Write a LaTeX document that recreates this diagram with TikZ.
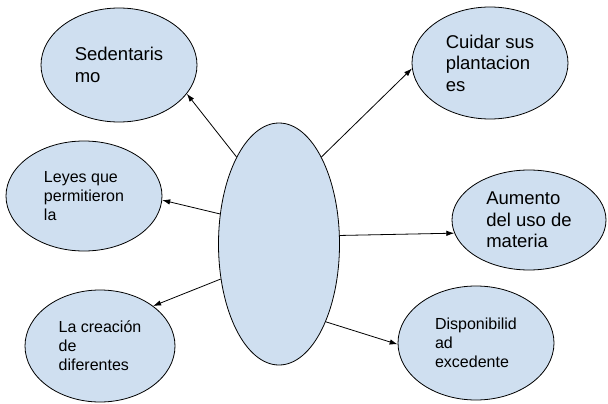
\documentclass[tikz,border=0pt]{standalone}
\usepackage{fontspec}
\setmainfont{Liberation Sans}
\usetikzlibrary{shapes.geometric,arrows.meta}
\definecolor{bolita}{RGB}{207,223,240}
\tikzset{>={Latex[length=8pt,width=5.5pt]}}
\tikzset{
  idea/.style={ellipse,draw=black,line width=0.8pt,fill=bolita,inner sep=0pt,
    align=left,font=\fontsize{18.5}{21.5}\selectfont},
  ideachica/.style={idea,font=\fontsize{16}{19}\selectfont},
  flecha/.style={->,line width=0.8pt},
}

\begin{document}
\begin{tikzpicture}[x=1pt,y=-1pt]
  \useasboundingbox (0,0) rectangle (608,404);
  % ovalo del medio
  \node[idea,minimum width=121pt,minimum height=242pt] (centro) at (279,244) {};
  % los de la izquierda
  \node[idea,minimum width=156pt,minimum height=114pt] (sed) at (119,65) {Sedentaris\\mo};
  \node[ideachica,minimum width=156pt,minimum height=110pt] (leyes) at (84,196) {Leyes que\\permitieron\\la};
  \node[ideachica,minimum width=150pt,minimum height=112pt] (crea) at (100,346) {La creación\\de\\diferentes};
  % los de la derecha
  \node[idea,minimum width=156pt,minimum height=112pt] (cuidar) at (490,63) {Cuidar sus\\plantacion\\es};
  \node[idea,minimum width=154pt,minimum height=100pt] (aum) at (529,220) {Aumento\\del uso de\\materia};
  \node[ideachica,minimum width=156pt,minimum height=114pt] (disp) at (476,343) {Disponibilid\\ad\\excedente};
  % flechas
  \draw[flecha] (centro.116) -- (sed.-23);
  \draw[flecha] (centro.153) -- (leyes.-3);
  \draw[flecha] (centro.211) -- (crea.37);
  \draw[flecha] (centro.64) -- (cuidar.184);
  \draw[flecha] (centro.8) -- (aum.190);
  \draw[flecha] (centro.-59) -- (disp.181);
\end{tikzpicture}
\end{document}
